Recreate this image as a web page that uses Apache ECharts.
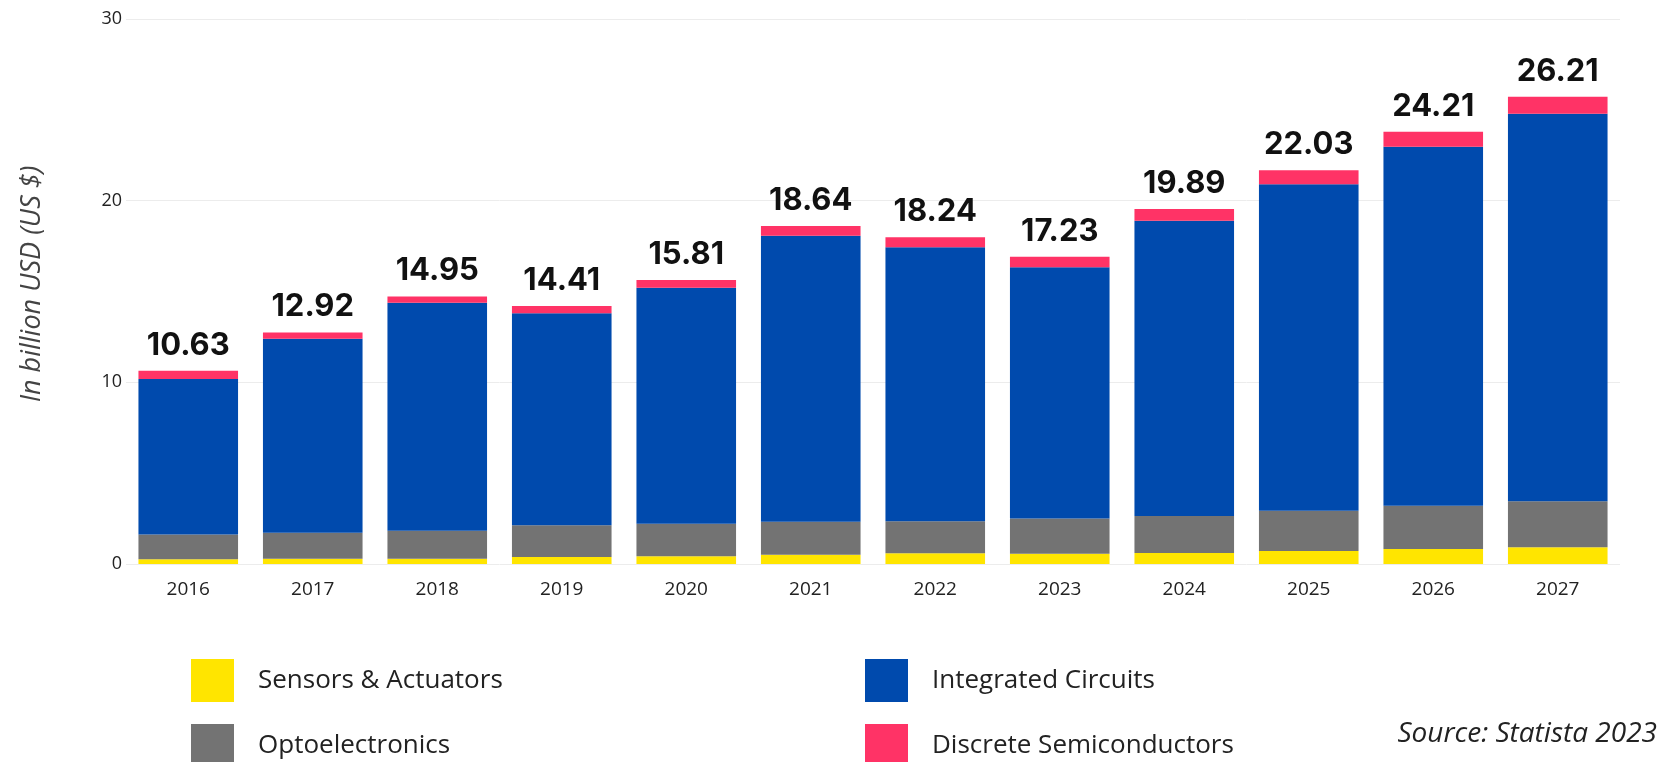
<!DOCTYPE html>
<html>
<head>
<meta charset="utf-8">
<title>Semiconductor market</title>
<script src="https://cdn.jsdelivr.net/npm/echarts@6/dist/echarts.min.js"></script>
<style>
  html, body { margin: 0; padding: 0; background: #fff; }
  #chart { width: 1660px; height: 762px; }
</style>
</head>
<body>
<div id="chart"></div>
<script>
// values, billion USD
const years = ["2016", "2017", "2018", "2019", "2020", "2021", "2022", "2023", "2024", "2025", "2026", "2027"];
const sensors = [0.26, 0.29, 0.29, 0.38, 0.42, 0.51, 0.59, 0.57, 0.6, 0.72, 0.83, 0.92];
const opto = [1.37, 1.43, 1.54, 1.75, 1.8, 1.82, 1.76, 1.94, 2.04, 2.21, 2.38, 2.53];
const circuits = [8.55, 10.68, 12.55, 11.67, 12.99, 15.74, 15.08, 13.82, 16.25, 17.98, 19.76, 21.33];
const discrete = [0.46, 0.35, 0.35, 0.4, 0.42, 0.53, 0.55, 0.58, 0.65, 0.76, 0.82, 0.94];
const totalLabels = ["10.63", "12.92", "14.95", "14.41", "15.81", "18.64", "18.24", "17.23", "19.89", "22.03", "24.21", "26.21"];
const yTicks = [0, 10, 20, 30];

const chart = echarts.init(document.getElementById("chart"));

function stackBar(name, data, color, extra) {
  return Object.assign({
    name: name,
    type: "bar",
    stack: "total",
    barWidth: "80%",
    data: data,
    itemStyle: { color: color },
    emphasis: { disabled: true },
  }, extra || {});
}

// one legend per item so the 2x2 grid stays put (a vertical legend wraps at the page edge)
function legendItem(name, left, top) {
  return {
    left: left, top: top,
    itemWidth: 43, itemHeight: 43,
    icon: "rect", selectedMode: false,
    textStyle: { fontFamily: "Open Sans", fontSize: 26, color: "#222", padding: [0, 0, 0, 19] },
    data: [name],
  };
}

chart.setOption({
  animation: false,
  textStyle: { fontFamily: "Open Sans" },
  grid: { left: 126, right: 40, top: 19, bottom: 198 },
  legend: [
    legendItem("Sensors & Actuators", 186, 654),
    legendItem("Optoelectronics", 186, 719),
    legendItem("Integrated Circuits", 860, 654),
    legendItem("Discrete Semiconductors", 860, 719),
  ],
  xAxis: {
    type: "category",
    data: years,
    axisLine: { show: false },
    axisTick: { show: false },
    axisLabel: { fontSize: 19, color: "#222", margin: 16 },
  },
  yAxis: {
    type: "value",
    min: yTicks[0],
    max: yTicks[yTicks.length - 1],
    interval: 10,
    name: "In billion USD (US $)",
    nameLocation: "middle",
    nameGap: 80,
    nameTextStyle: { fontSize: 27, fontStyle: "italic", color: "#444", padding: [0, 0, 0, 15] },
    axisLabel: { fontSize: 18, color: "#222", margin: 4 },
    splitLine: { lineStyle: { color: "#ececec", width: 1 } },
  },
  series: [
    stackBar("Sensors & Actuators", sensors, "#ffe500"),
    stackBar("Optoelectronics", opto, "#737373"),
    stackBar("Integrated Circuits", circuits, "#004aad"),
    stackBar("Discrete Semiconductors", discrete, "#ff3366", {
      label: {
        show: true,
        position: "top",
        distance: 10,
        fontFamily: "Inter",
        fontWeight: "bold",
        fontSize: 31,
        color: "#111",
        formatter: (p) => totalLabels[p.dataIndex],
      },
    }),
  ],
  graphic: [
    {
      type: "text",
      right: 3,
      top: 720,
      style: {
        text: "Source: Statista 2023",
        fontFamily: "Open Sans",
        fontStyle: "italic",
        fontSize: 28,
        fill: "#222",
      },
    },
  ],
});
</script>
</body>
</html>
